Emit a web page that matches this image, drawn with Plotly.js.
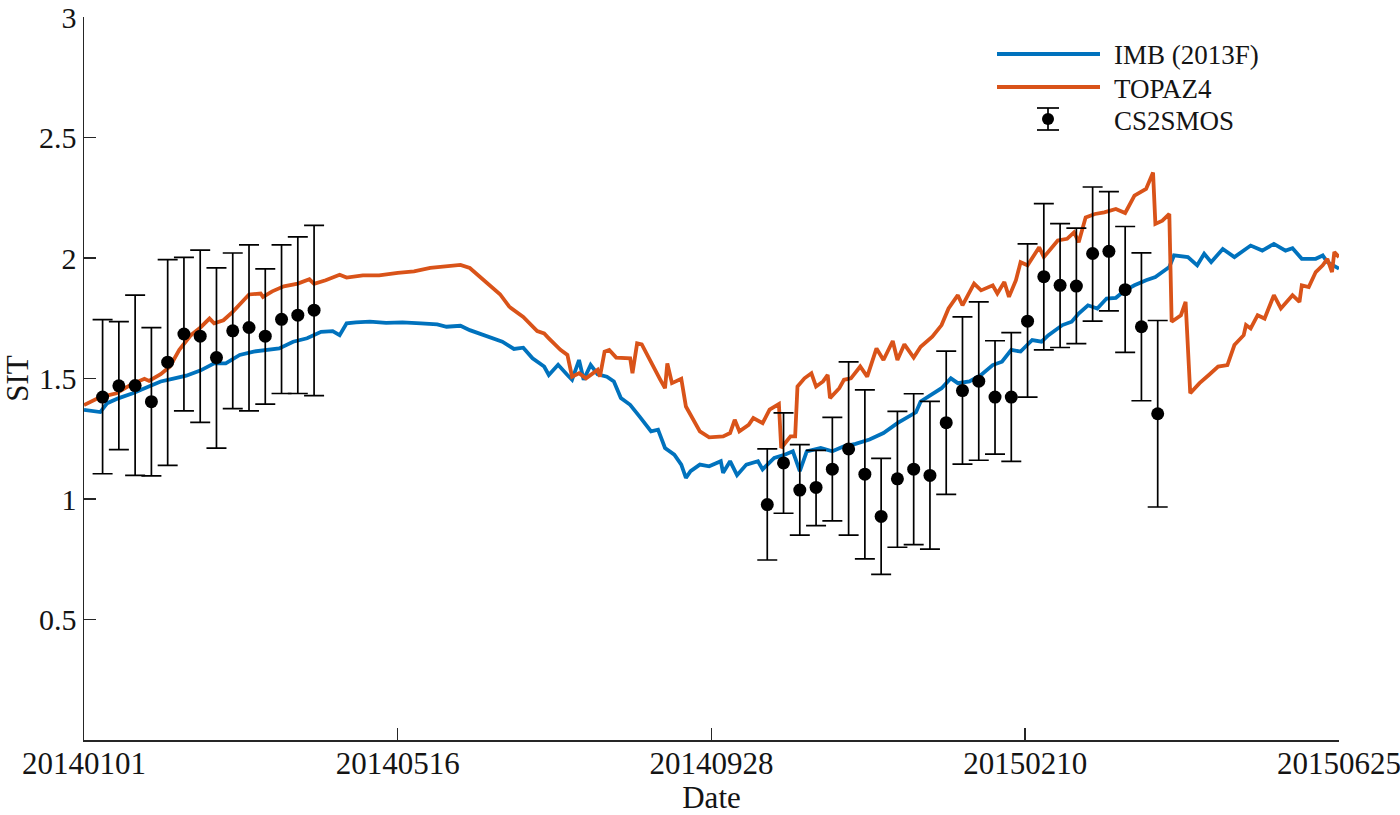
<!DOCTYPE html>
<html>
<head>
<meta charset="utf-8">
<script src="https://cdn.plot.ly/plotly-3.0.1.min.js"></script>
<style>
  html, body { margin: 0; padding: 0; background: #fff; }
  #chart { width: 1400px; height: 815px; }
</style>
</head>
<body>
<div id="chart"></div>
<script>
// ---- Data (x = days since 2014-01-01) ----
const tickDays = [0, 135, 270, 405, 540];
const tickLabels = ["20140101", "20140516", "20140928", "20150210", "20150625"];
const yTickVals = [0.5, 1, 1.5, 2, 2.5, 3];
const yTickLabels = ["0.5", "1", "1.5", "2", "2.5", "3"];

const imbDays = [0,3,7,10,15,21,27,33,38,44,50,56,61,67,73,79,84,90,96,102,107,110,113,117,123,130,137,145,152,156,162,166,172,175,180,185,189,193,198,200,204,208,210,213,215,218,221,225,228,231,235,239,244,247,250,254,257,259,261,265,269,274,275,278,281,285,290,292,297,301,305,308,311,317,322,327,332,338,344,350,354,358,360,365,369,373,376,381,386,391,395,399,403,408,412,415,421,425,428,432,436,440,444,448,452,457,461,464,467,469,475,479,482,485,490,495,502,507,512,517,520,524,530,533,535,540];
const imbSIT = [1.37,1.366,1.361,1.398,1.419,1.439,1.463,1.488,1.499,1.512,1.533,1.563,1.563,1.598,1.612,1.621,1.625,1.653,1.667,1.694,1.697,1.680,1.729,1.733,1.736,1.731,1.733,1.729,1.725,1.715,1.719,1.701,1.680,1.669,1.653,1.623,1.628,1.584,1.550,1.515,1.557,1.515,1.495,1.577,1.495,1.557,1.518,1.508,1.488,1.419,1.391,1.343,1.281,1.288,1.212,1.184,1.143,1.088,1.116,1.143,1.136,1.157,1.109,1.157,1.099,1.143,1.157,1.123,1.171,1.182,1.198,1.116,1.198,1.212,1.198,1.219,1.229,1.247,1.274,1.315,1.336,1.36,1.405,1.433,1.460,1.501,1.481,1.488,1.515,1.556,1.570,1.619,1.612,1.660,1.653,1.680,1.722,1.736,1.770,1.804,1.791,1.832,1.835,1.866,1.887,1.908,1.921,1.942,1.963,2.011,2.004,1.970,2.018,1.983,2.038,2.004,2.052,2.031,2.059,2.031,2.041,1.997,1.997,2.011,1.983,1.956];

const topazDays = [0,7,14,20,26,28,33,37,41,46,50,54,56,60,64,69,71,76,77,81,86,92,97,99,104,110,113,120,127,135,142,149,156,162,166,170,175,179,183,189,195,198,200,205,208,210,213,216,221,222,224,226,229,233,235,236,238,240,243,248,250,251,253,257,259,262,265,269,275,278,280,282,286,288,292,295,299,300,304,306,307,310,313,315,318,320,321,325,327,330,334,337,341,344,348,350,353,357,360,365,369,372,376,378,383,386,391,393,396,398,401,403,406,411,413,419,423,426,428,431,435,439,444,448,452,457,460,461,464,467,468,472,474,476,480,484,488,492,495,499,500,502,505,508,512,515,520,523,524,527,530,533,535,537,538,540];
const topazSIT = [1.39,1.423,1.439,1.474,1.499,1.490,1.518,1.550,1.619,1.680,1.711,1.749,1.729,1.742,1.777,1.832,1.849,1.853,1.839,1.862,1.883,1.894,1.912,1.893,1.908,1.931,1.919,1.928,1.928,1.939,1.945,1.959,1.967,1.972,1.959,1.926,1.887,1.850,1.798,1.756,1.697,1.687,1.667,1.619,1.598,1.508,1.522,1.501,1.536,1.508,1.612,1.619,1.587,1.584,1.584,1.522,1.646,1.642,1.584,1.495,1.460,1.563,1.481,1.499,1.384,1.336,1.281,1.256,1.260,1.274,1.329,1.281,1.308,1.336,1.315,1.371,1.394,1.212,1.260,1.260,1.467,1.501,1.522,1.467,1.488,1.515,1.419,1.460,1.495,1.501,1.550,1.508,1.625,1.577,1.656,1.577,1.642,1.587,1.632,1.674,1.722,1.791,1.846,1.804,1.894,1.866,1.887,1.853,1.901,1.839,1.908,1.983,1.970,2.045,2.004,2.073,2.080,2.107,2.066,2.169,2.183,2.190,2.204,2.187,2.259,2.287,2.355,2.142,2.155,2.183,1.736,1.763,1.818,1.439,1.481,1.515,1.550,1.556,1.639,1.680,1.722,1.708,1.763,1.749,1.846,1.791,1.846,1.818,1.887,1.880,1.942,1.970,1.997,1.942,2.025,2.004];

const csDays = [8,15,22,29,36,43,50,57,64,71,78,85,92,99,294,301,308,315,322,329,336,343,350,357,364,371,378,385,392,399,406,413,420,427,434,441,448,455,462];
const csSIT = [1.423,1.470,1.471,1.404,1.568,1.685,1.676,1.587,1.698,1.712,1.676,1.746,1.763,1.784,0.977,1.150,1.037,1.048,1.124,1.208,1.103,0.928,1.084,1.124,1.098,1.317,1.450,1.489,1.423,1.423,1.738,1.923,1.887,1.884,2.019,2.028,1.869,1.715,1.354];
const csUpper = [1.745,1.736,1.846,1.711,1.994,2.003,2.033,1.959,2.021,2.055,1.955,2.055,2.088,2.136,1.208,1.358,1.226,1.202,1.339,1.569,1.453,1.169,1.364,1.437,1.405,1.614,1.756,1.818,1.657,1.691,2.059,2.226,2.143,2.124,2.295,2.276,2.131,2.022,1.741];
const csLower = [1.105,1.205,1.098,1.096,1.140,1.366,1.318,1.211,1.375,1.366,1.394,1.438,1.438,1.429,0.747,0.941,0.850,0.890,0.909,0.850,0.752,0.687,0.800,0.811,0.792,1.019,1.145,1.161,1.186,1.156,1.423,1.619,1.629,1.645,1.738,1.781,1.609,1.408,0.967];

const seriesNames = ["IMB (2013F)", "TOPAZ4", "CS2SMOS"];
const colors = ["#0072BD", "#D95319", "#000000"];

// ---- Build ----
const errPlus = csUpper.map((u, i) => u - csSIT[i]);
const errMinus = csLower.map((l, i) => csSIT[i] - l);

const traces = [
  { x: imbDays, y: imbSIT, type: "scatter", mode: "lines", name: seriesNames[0],
    line: { color: colors[0], width: 3.8 }, showlegend: false },
  { x: topazDays, y: topazSIT, type: "scatter", mode: "lines", name: seriesNames[1],
    line: { color: colors[1], width: 3.8 }, showlegend: false },
  { x: csDays, y: csSIT, type: "scatter", mode: "markers", name: seriesNames[2],
    marker: { color: colors[2], size: 13 },
    error_y: { type: "data", symmetric: false, array: errPlus, arrayminus: errMinus,
               color: "#000", thickness: 1.7, width: 10 },
    showlegend: false }
];

// plot area geometry (pixels)
const L = 84, R = 1339, T = 17, B = 740;
const px = v => (v - L) / (R - L);
const py = v => (B - v) / (B - T);

const fontFam = "Liberation Serif, Times New Roman, serif";
const axisCol = "#262626";
const textCol = "#141414";

const shapes = [
  { type: "line", xref: "paper", yref: "paper", x0: px(997), x1: px(1100), y0: py(54), y1: py(54),
    line: { color: colors[0], width: 3.8 } },
  { type: "line", xref: "paper", yref: "paper", x0: px(997), x1: px(1100), y0: py(87), y1: py(87),
    line: { color: colors[1], width: 3.8 } },
  { type: "line", xref: "paper", yref: "paper", x0: px(1048), x1: px(1048), y0: py(108), y1: py(130),
    line: { color: "#000", width: 1.7 } },
  { type: "line", xref: "paper", yref: "paper", x0: px(1037), x1: px(1059), y0: py(108), y1: py(108),
    line: { color: "#000", width: 1.7 } },
  { type: "line", xref: "paper", yref: "paper", x0: px(1037), x1: px(1059), y0: py(130), y1: py(130),
    line: { color: "#000", width: 1.7 } },
  { type: "circle", xref: "paper", yref: "paper", x0: px(1042), x1: px(1054), y0: py(113), y1: py(125),
    fillcolor: "#000", line: { color: "#000", width: 0 } }
];

const legendY = [55, 89, 121];
const annotations = seriesNames.map((n, i) => ({
  xref: "paper", yref: "paper", x: px(1112), y: py(legendY[i]), xanchor: "left", yanchor: "middle",
  text: n, showarrow: false, font: { family: fontFam, size: 27, color: textCol }
}));

const layout = {
  width: 1400, height: 815,
  margin: { l: L, r: 1400 - R, t: T, b: 815 - B, pad: 0 },
  paper_bgcolor: "#fff", plot_bgcolor: "#fff",
  font: { family: fontFam, size: 31, color: textCol },
  showlegend: false,
  xaxis: {
    range: [0, 540.01], tickmode: "array", tickvals: tickDays, ticktext: tickLabels,
    ticks: "inside", ticklen: 12, tickwidth: 1.5, tickcolor: axisCol,
    showline: true, linecolor: axisCol, linewidth: 1.5, mirror: false,
    showgrid: false, zeroline: false, ticklabeloverflow: "allow", ticklabelstandoff: -5,
    tickfont: { family: fontFam, size: 31, color: textCol },
    title: { text: "Date", font: { family: fontFam, size: 31, color: textCol }, standoff: 10 }
  },
  yaxis: {
    range: [0, 3.0005], tickmode: "array", tickvals: yTickVals, ticktext: yTickLabels,
    ticks: "inside", ticklen: 12, tickwidth: 1.5, tickcolor: axisCol,
    showline: true, linecolor: axisCol, linewidth: 1.5, mirror: false,
    showgrid: false, zeroline: false, ticklabeloverflow: "allow",
    tickfont: { family: fontFam, size: 30, color: textCol },
    title: { text: "SIT", font: { family: fontFam, size: 31, color: textCol }, standoff: 8 }
  },
  shapes: shapes,
  annotations: annotations
};

Plotly.newPlot("chart", traces, layout, { displayModeBar: false, staticPlot: true });
</script>
</body>
</html>
